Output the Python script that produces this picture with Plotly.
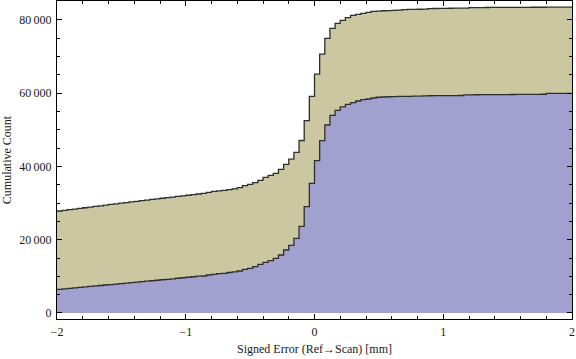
import plotly.graph_objects as go

# ---- data ----
bin_start = -2.0
bin_width = 0.04

# cumulative count of first group (blue), per 0.04-wide bin from -2 to 2
cum_blue = [
    6470, 6600, 6730, 6860, 6990, 7120, 7250, 7380, 7510, 7640,
    7770, 7900, 8030, 8160, 8290, 8420, 8550, 8680, 8810, 8940,
    9070, 9200, 9340, 9480, 9620, 9760, 9900, 10040, 10100, 10370,
    10570, 10730, 10840, 11050, 11200, 11470, 11930, 12200, 12640, 13300,
    13840, 14280, 14930, 15840, 17200, 18450, 20400, 23650, 29020, 35410,
    41580, 47040, 51330, 53950, 55330, 56300, 56950, 57450, 57880, 58240,
    58430, 58700, 58900, 58970, 59040, 59100, 59130, 59150, 59170, 59190,
    59210, 59300, 59320, 59330, 59340, 59350, 59360, 59370, 59380, 59560,
    59580, 59590, 59600, 59610, 59620, 59630, 59640, 59650, 59660, 59670,
    59680, 59690, 59700, 59710, 59720, 59950, 59960, 59970, 59980, 59990,
]

# cumulative count of both groups stacked (khaki top edge)
cum_total = [
    27850, 28030, 28210, 28380, 28560, 28740, 28920, 29100, 29270, 29450,
    29630, 29810, 29990, 30160, 30340, 30500, 30670, 30830, 31000, 31160,
    31330, 31490, 31660, 31820, 31990, 32150, 32320, 32490, 32680, 32950,
    33200, 33350, 33500, 33700, 33900, 34210, 34760, 35140, 35580, 36230,
    37050, 37590, 38140, 39230, 40600, 42000, 43870, 47100, 52550, 59150,
    65200, 70680, 75000, 77730, 79100, 79920, 80630, 81280, 81560, 81830,
    82100, 82370, 82400, 82530, 82560, 82640, 82700, 82850, 82880, 82910,
    82940, 82970, 83110, 83140, 83160, 83180, 83200, 83220, 83240, 83260,
    83380, 83390, 83400, 83410, 83420, 83430, 83440, 83450, 83455, 83460,
    83465, 83470, 83475, 83480, 83485, 83490, 83495, 83500, 83505, 83510,
]

x_tickvals = [-2, -1, 0, 1, 2]
x_ticktext = ["\u22122", "\u22121", "0", "1", "2"]
y_tickvals = [0, 20000, 40000, 60000, 80000]
y_ticktext = ["0", "20\u2009000", "40\u2009000", "60\u2009000", "80\u2009000"]

x_title = "Signed Error (Ref\u2192Scan) [mm]"
y_title = "Cumulative Count"

# ---- build step traces ----
n = len(cum_blue)
edges = [bin_start + i * bin_width for i in range(n + 1)]
blue_y = cum_blue + [cum_blue[-1]]
total_y = cum_total + [cum_total[-1]]

line_col = "#2e2e2e"
blue_fill = "rgb(161,160,206)"
khaki_fill = "rgb(203,199,161)"

fig = go.Figure()
fig.add_trace(go.Scatter(
    x=edges, y=blue_y, mode="lines", line_shape="hv",
    line=dict(color=line_col, width=1.3),
    fill="tozeroy", fillcolor=blue_fill, hoverinfo="skip", showlegend=False,
))
fig.add_trace(go.Scatter(
    x=edges, y=total_y, mode="lines", line_shape="hv",
    line=dict(color=line_col, width=1.3),
    fill="tonexty", fillcolor=khaki_fill, hoverinfo="skip", showlegend=False,
))

font = dict(family="Liberation Serif, Times New Roman, serif", size=12, color="#1a1a1a")

fig.update_layout(
    width=576, height=359,
    margin=dict(l=57, r=4, t=1, b=40),
    paper_bgcolor="white", plot_bgcolor="white",
    font=font,
    xaxis=dict(
        range=[-2, 2], showgrid=False, zeroline=False,
        showline=True, linecolor="black", linewidth=1, mirror="ticks",
        ticks="inside", ticklen=5, tickcolor="black", tickwidth=1,
        tickmode="array", tickvals=x_tickvals, ticktext=x_ticktext,
        minor=dict(tickmode="linear", tick0=-2, dtick=0.2, ticks="inside",
                   ticklen=3, tickcolor="black", tickwidth=1, showgrid=False),
        title=dict(text=x_title, standoff=6, font=font),
        automargin=False, ticklabelstandoff=2,
    ),
    yaxis=dict(
        range=[-1640, 85186], showgrid=False, zeroline=False,
        showline=True, linecolor="black", linewidth=1, mirror="ticks",
        ticks="inside", ticklen=5, tickcolor="black", tickwidth=1,
        tickmode="array", tickvals=y_tickvals, ticktext=y_ticktext,
        minor=dict(tickmode="linear", tick0=0, dtick=5000, ticks="inside",
                   ticklen=3, tickcolor="black", tickwidth=1, showgrid=False),
        title=dict(text=y_title, standoff=4, font=font),
        automargin=False, ticklabelstandoff=2,
    ),
)

fig.write_html(
    "out.html",
    config={"displayModeBar": False},
    post_script="document.body.style.margin='0';document.body.style.padding='0';",
)
